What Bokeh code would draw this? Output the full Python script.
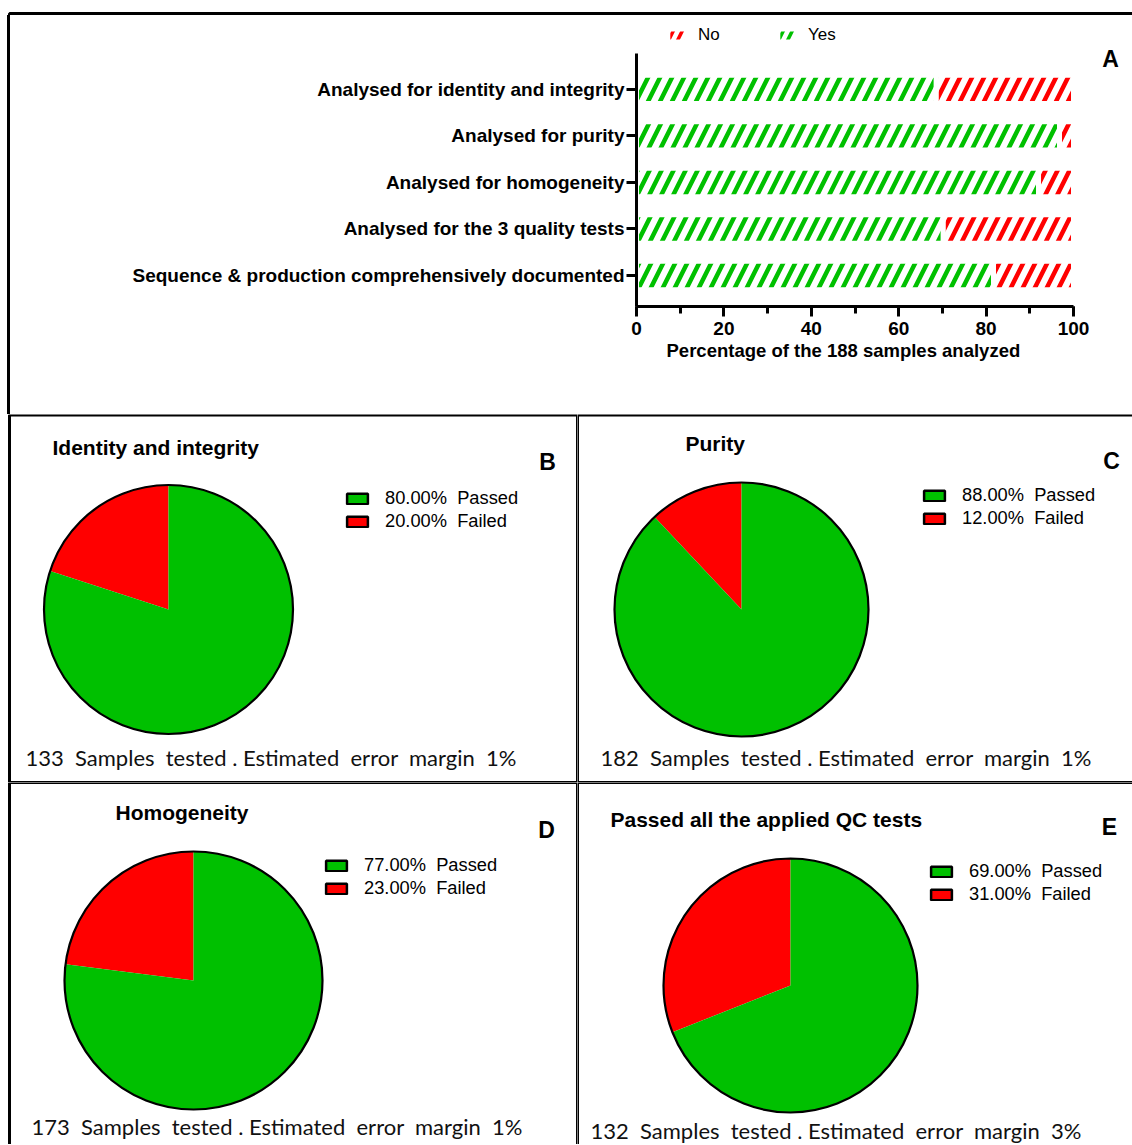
import math
from bokeh.plotting import figure
from bokeh.models import (ColumnDataSource, Range1d, FixedTicker, SingleIntervalTicker,
                          Legend, LegendItem, Label, BoxAnnotation, Spacer)
from bokeh.core.properties import value
from bokeh.layouts import column, row
from bokeh.embed import file_html
from bokeh.resources import INLINE

GREEN = "#00c000"
RED = "#ff0000"
FONT = "Liberation Sans"

# ---------------- data ----------------
bar_categories = [
    "Analysed for identity and integrity",
    "Analysed for purity",
    "Analysed for homogeneity",
    "Analysed for the 3 quality tests",
    "Sequence & production comprehensively documented",
]
yes_pct = [68.6, 96.8, 92.0, 70.2, 81.7]
no_pct = [31.4, 3.2, 8.0, 29.8, 18.3]
x_axis_title = "Percentage of the 188 samples analyzed"

pie_titles = ["Identity and integrity", "Purity", "Homogeneity", "Passed all the applied QC tests"]
pie_letters = ["B", "C", "D", "E"]
passed_pct = [80.0, 88.0, 77.0, 69.0]
failed_pct = [20.0, 12.0, 23.0, 31.0]
samples_tested = [133, 182, 173, 132]
error_margin = [1, 1, 1, 3]


def border(left, top, right, bottom):
    return BoxAnnotation(left=left, right=right, top=top, bottom=bottom,
                         left_units="canvas", right_units="canvas",
                         top_units="canvas", bottom_units="canvas",
                         fill_alpha=0, line_color="black", line_alpha=1, line_width=3)


def blank(width, height):
    f = figure(width=width, height=height, output_backend="svg", toolbar_location=None,
               x_range=Range1d(0, 1), y_range=Range1d(0, 1),
               x_axis_location=None, y_axis_location=None, min_border=0)
    f.xgrid.visible = False
    f.ygrid.visible = False
    f.outline_line_color = None
    return f


# ---------------- panel A frame pieces ----------------
top_strip = blank(1132, 15)
top_strip.add_layout(border(9, 13, 3000, 3000))
left_strip = Spacer(width=12, height=399, styles={
    "background": "linear-gradient(to right, #ffffff 0px, #ffffff 7.5px, #000000 7.5px, "
                  "#000000 10.5px, #ffffff 10.5px, #ffffff 12px)"})

# ---------------- panel A ----------------
PX_PER_UNIT_Y = 46.55
PX_PER_PCT = 4.37
frame_h = 399 - 5 - 108
frame_w = 1120 - 624
y_bottom = 4.665
y_top = y_bottom - frame_h / PX_PER_UNIT_Y
pA = figure(width=1120, height=399, output_backend="svg", toolbar_location=None,
            x_range=Range1d(0, frame_w / PX_PER_PCT), y_range=Range1d(y_bottom, y_top),
            min_border_left=624, min_border_right=0, min_border_top=5, min_border_bottom=108)
pA.xgrid.visible = False
pA.ygrid.visible = False
pA.outline_line_color = None

idx = list(range(len(bar_categories)))
src = ColumnDataSource(dict(
    y=idx,
    zero=[0] * len(idx),
    yes=yes_pct,
    no_left=yes_pct,
    no_right=[a + b for a, b in zip(yes_pct, no_pct)],
))
hatch_kw = dict(fill_color="white", line_color="white", line_width=5,
                hatch_pattern="/", hatch_weight=4.5, hatch_scale=24)
pA.hbar(y="y", left="zero", right="yes", height=0.61, source=src, hatch_color=GREEN, **hatch_kw)
pA.hbar(y="y", left="no_left", right="no_right", height=0.61, source=src, hatch_color=RED, **hatch_kw)

# legend proxies (kept outside the visible ranges)
proxy = ColumnDataSource(dict(x=[-1e6], y=[-1e6]))
rNo = pA.rect(x="x", y="y", width=1, height=1, source=proxy, fill_color="white", line_color=None,
              hatch_pattern="/", hatch_color=RED, hatch_weight=3.5, hatch_scale=18)
rYes = pA.rect(x="x", y="y", width=1, height=1, source=proxy, fill_color="white", line_color=None,
               hatch_pattern="/", hatch_color=GREEN, hatch_weight=3.5, hatch_scale=18)
legA = Legend(items=[LegendItem(label=value("No"), renderers=[rNo]),
                     LegendItem(label=value("Yes"), renderers=[rYes])],
              orientation="horizontal", location=(32, 261),
              glyph_width=18, glyph_height=10, label_standoff=12, label_width=68,
              label_height=20, spacing=12, padding=0, margin=0,
              border_line_color=None, background_fill_alpha=0,
              label_text_font=FONT, label_text_font_size="17px", label_text_color="black")
pA.add_layout(legA, "center")

xa = pA.xaxis[0]
xa.bounds = (0, 100)
xa.ticker = SingleIntervalTicker(interval=20, num_minor_ticks=2)
# trailing no-break spaces shift the centred title left, as in the reference
xa.axis_label = x_axis_title + "\u00a0" * 16
xa.axis_label_text_font = FONT
xa.axis_label_text_font_style = "bold"
xa.axis_label_text_font_size = "18.5px"
xa.axis_label_text_color = "black"
xa.axis_label_standoff = 2
xa.major_label_text_font = FONT
xa.major_label_text_font_style = "bold"
xa.major_label_text_font_size = "19px"
xa.major_label_text_color = "black"
xa.major_label_standoff = 5
xa.axis_line_width = 3
xa.major_tick_line_width = 3
xa.minor_tick_line_width = 3
xa.major_tick_out = 10
xa.major_tick_in = 0
xa.minor_tick_out = 7
xa.minor_tick_in = 0

ya = pA.yaxis[0]
ya.bounds = (-0.77, y_bottom)
ya.ticker = FixedTicker(ticks=idx)
ya.major_label_overrides = {i: c for i, c in enumerate(bar_categories)}
ya.major_label_text_font = FONT
ya.major_label_text_font_style = "bold"
ya.major_label_text_font_size = "19px"
ya.major_label_text_color = "black"
ya.major_label_standoff = 2
ya.axis_line_width = 3
ya.major_tick_line_width = 3
ya.major_tick_out = 10
ya.major_tick_in = 0
ya.minor_tick_line_color = None

# panel letter "A" (absolute canvas px 1110, 58 -> data)
pA.add_layout(Label(x=(1110 - 636) / PX_PER_PCT, y=y_bottom - (306 - 58) / PX_PER_UNIT_Y, text="A",
                    text_font=FONT, text_font_style="bold", text_font_size="23px",
                    text_color="black", text_align="center", text_baseline="middle"))

# ---------------- pie panels ----------------
layouts = [
    dict(W=577, H=368, cx=168, cy=195, r=124.5, title=(52, 33), letter=(547, 47),
         legend=(344, 84), footer=(25, 343), border=(9, 0.5, 577, 368)),
    dict(W=555, H=368, cx=164, cy=195, r=127, title=(108, 29), letter=(534, 46),
         legend=(344, 81), footer=(23, 343), border=(0, 0.5, 3000, 368)),
    dict(W=577, H=362, cx=193, cy=198, r=129, title=(115, 30), letter=(546, 47),
         legend=(323, 83), footer=(31, 344), border=(9, 0, 577, 3000)),
    dict(W=555, H=362, cx=213, cy=203, r=127, title=(33, 37), letter=(532, 44),
         legend=(351, 89), footer=(13, 348), border=(0, 0, 3000, 3000)),
]

pies = []
for i, L in enumerate(layouts):
    W, H, cx, cy, r = L["W"], L["H"], L["cx"], L["cy"], L["r"]
    p = figure(width=W, height=H, output_backend="svg", toolbar_location=None,
               x_range=Range1d(-cx / r, (W - cx) / r), y_range=Range1d(-(H - cy) / r, cy / r),
               x_axis_location=None, y_axis_location=None, min_border=0)
    p.xgrid.visible = False
    p.ygrid.visible = False
    p.outline_line_color = None

    vals = [failed_pct[i], passed_pct[i]]
    total = sum(vals)
    starts, ends = [], []
    a = math.pi / 2
    for v in vals:
        starts.append(a)
        a = a + 2 * math.pi * v / total
        ends.append(a)
    wsrc = ColumnDataSource(dict(start=starts, end=ends, color=[RED, GREEN]))
    p.wedge(x=0, y=0, radius=1, start_angle="start", end_angle="end",
            fill_color="color", line_color=None, source=wsrc)
    p.circle(x=[0], y=[0], radius=1, fill_color=None, line_color="black", line_width=2.2)

    def px(x):
        return (x - cx) / r

    def py(y):
        return (cy - y) / r

    p.add_layout(Label(x=px(L["title"][0]), y=py(L["title"][1]), text=pie_titles[i],
                       text_font=FONT, text_font_style="bold", text_font_size="21px",
                       text_color="black", text_align="left", text_baseline="middle"))
    p.add_layout(Label(x=px(L["letter"][0]), y=py(L["letter"][1]), text=pie_letters[i],
                       text_font=FONT, text_font_style="bold", text_font_size="23px",
                       text_color="black", text_align="center", text_baseline="middle"))
    footer = (f"{samples_tested[i]}\u00a0 Samples\u00a0 tested . Estimated\u00a0 error\u00a0 "
              f"margin\u00a0 {error_margin[i]}%")
    p.add_layout(Label(x=px(L["footer"][0]), y=py(L["footer"][1]), text=footer,
                       text_font="Lato", text_font_size="22px", text_color="#111111",
                       text_align="left", text_baseline="middle"))

    psrc = ColumnDataSource(dict(x=[-1e6], y=[-1e6]))
    rP = p.rect(x="x", y="y", width=1, height=1, source=psrc, fill_color=GREEN,
                line_color="black", line_width=2.5)
    rF = p.rect(x="x", y="y", width=1, height=1, source=psrc, fill_color=RED,
                line_color="black", line_width=2.5)
    lx, ly = L["legend"]
    leg = Legend(items=[LegendItem(label=value(f"{passed_pct[i]:.2f}%\u00a0 Passed"), renderers=[rP]),
                        LegendItem(label=value(f"{failed_pct[i]:.2f}%\u00a0 Failed"), renderers=[rF])],
                 location=(lx, H - (ly - 11.5 + 46)),
                 glyph_width=26, glyph_height=13, label_standoff=15, label_height=23,
                 spacing=0, padding=0, margin=0, border_line_color=None,
                 background_fill_alpha=0, label_text_font=FONT, label_text_font_size="18.3px",
                 label_text_color="black")
    p.add_layout(leg, "center")

    bl, bt, br, bb = L["border"]
    p.add_layout(border(bl, bt, br, bb))
    pies.append(p)

layout = column(top_strip, row(left_strip, pA), row(pies[0], pies[1]), row(pies[2], pies[3]))
open("out.html", "w").write(file_html(layout, INLINE))
